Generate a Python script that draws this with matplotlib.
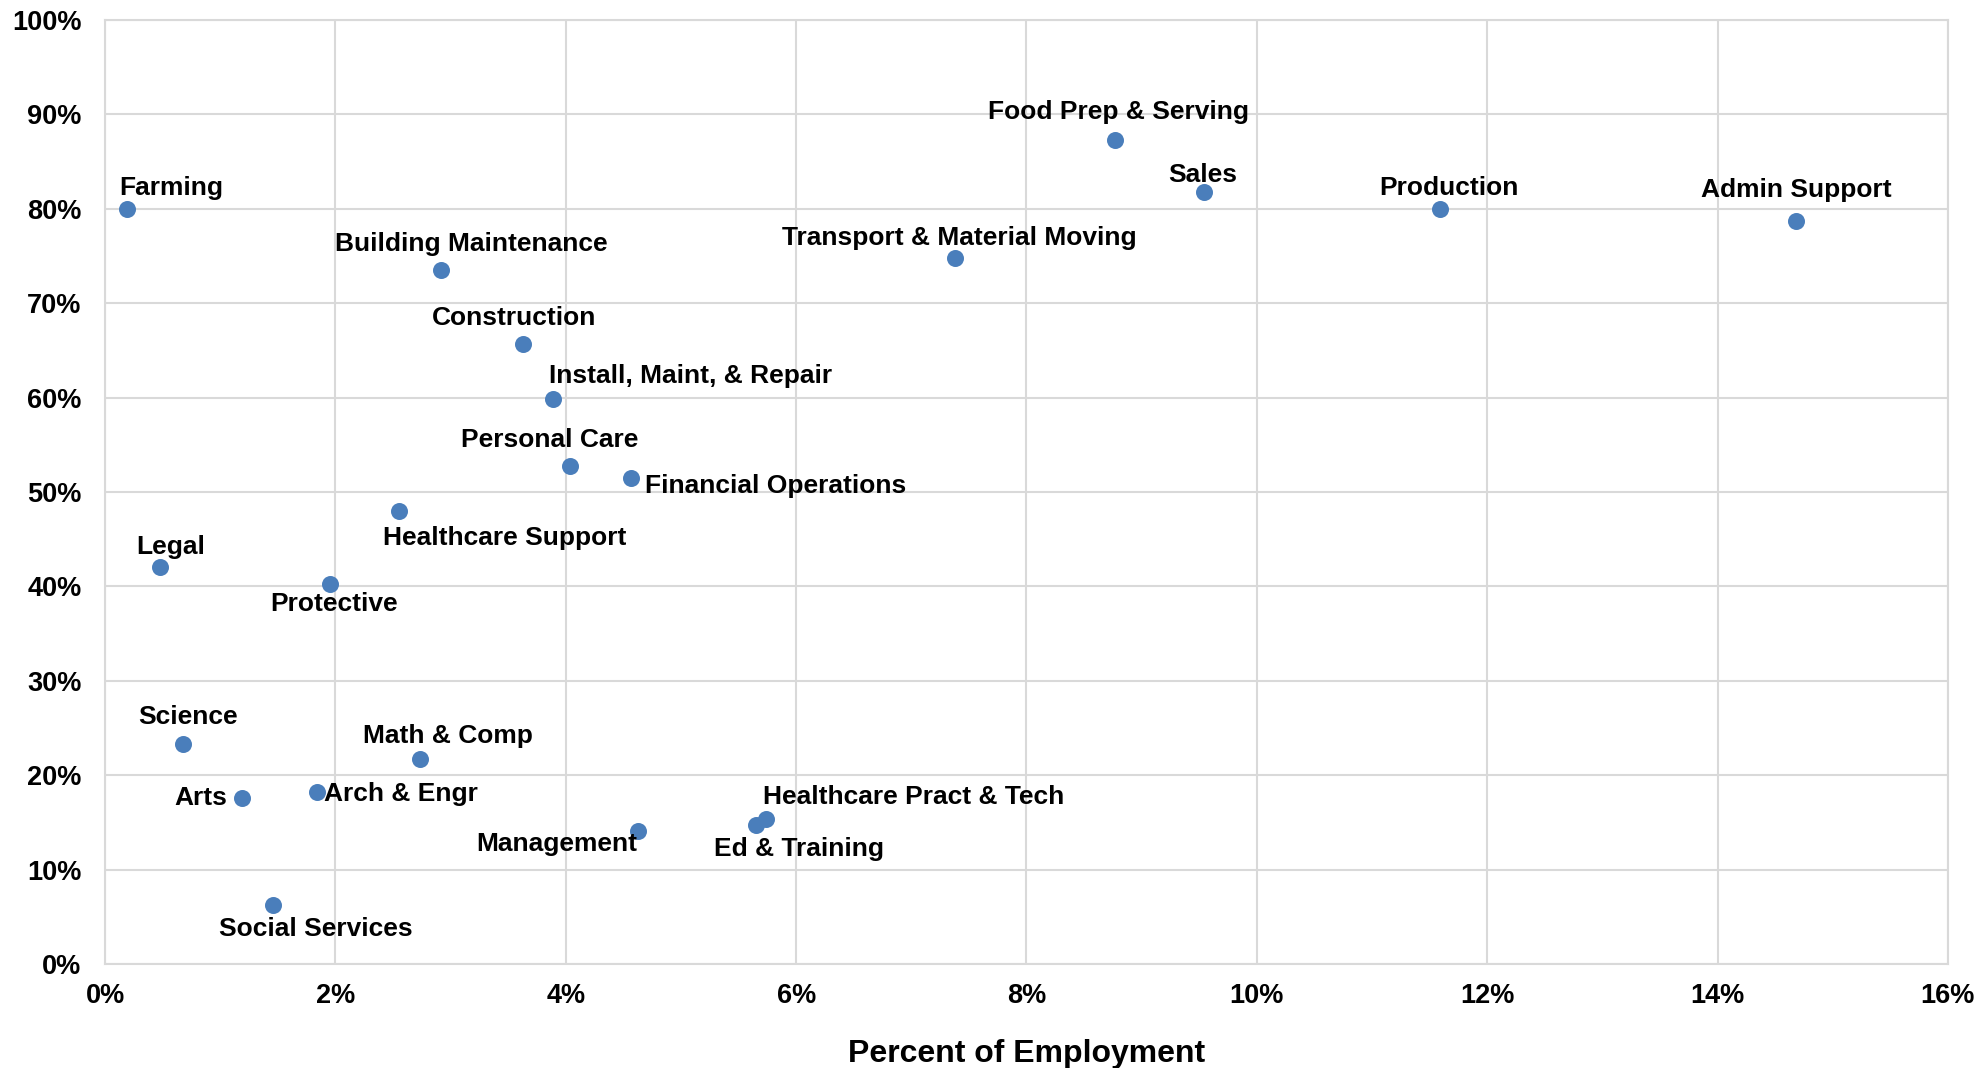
import matplotlib
matplotlib.use("Agg")
import matplotlib.pyplot as plt
from matplotlib.ticker import PercentFormatter

plt.rcParams['font.family'] = ['Liberation Sans', 'DejaVu Sans']
plt.rcParams['font.weight'] = 'bold'

# Occupation groups: share of employment (%) vs. share of tasks automatable (%)
occupations = [
    "Farming", "Building Maintenance", "Construction", "Install, Maint, & Repair",
    "Personal Care", "Financial Operations", "Healthcare Support", "Legal",
    "Protective", "Science", "Math & Comp", "Arts", "Arch & Engr", "Management",
    "Ed & Training", "Healthcare Pract & Tech", "Social Services",
    "Food Prep & Serving", "Sales", "Production", "Admin Support",
    "Transport & Material Moving",
]
employment = [0.19, 2.92, 3.63, 3.89, 4.04, 4.57, 2.55, 0.48, 1.95, 0.68, 2.73,
              1.19, 1.84, 4.63, 5.65, 5.74, 1.46, 8.77, 9.54, 11.59, 14.68, 7.38]
automatable = [80.0, 73.5, 65.7, 59.9, 52.7, 51.5, 48.0, 42.1, 40.2, 23.3, 21.7,
               17.6, 18.2, 14.1, 14.7, 15.4, 6.2, 87.3, 81.8, 80.0, 78.7, 74.8]

# label placement: offset in pixels from the point, and horizontal alignment
label_pos = {
    "Farming": (44, 21, "center"),
    "Building Maintenance": (30, 26, "center"),
    "Construction": (-9, 26, "center"),
    "Install, Maint, & Repair": (137, 23, "center"),
    "Personal Care": (-21, 26, "center"),
    "Financial Operations": (14, -8, "left"),
    "Healthcare Support": (106, -27, "center"),
    "Legal": (10, 20, "center"),
    "Protective": (4, -20, "center"),
    "Science": (5, 27, "center"),
    "Math & Comp": (28, 23, "center"),
    "Arts": (-15, 0, "right"),
    "Arch & Engr": (7, -2, "left"),
    "Management": (-1, -13, "right"),
    "Ed & Training": (43, -24, "center"),
    "Healthcare Pract & Tech": (147, 22, "center"),
    "Social Services": (43, -24, "center"),
    "Food Prep & Serving": (3, 28, "center"),
    "Sales": (-1, 17, "center"),
    "Production": (9, 21, "center"),
    "Admin Support": (0, 31, "center"),
    "Transport & Material Moving": (4, 20, "center"),
}

fig = plt.figure(figsize=(19.83, 10.68), dpi=100)
ax = fig.add_axes([0.053, 0.0974, 0.9293, 0.8839])

ax.scatter(employment, automatable, s=150, color="#4a7ebb", zorder=3, linewidths=0)

for name, x, y in zip(occupations, employment, automatable):
    dx, dy, ha = label_pos[name]
    ax.annotate(name, (x, y), xytext=(dx, dy), textcoords="offset pixels",
                ha=ha, va="center", fontsize=19, fontweight="bold", zorder=4)

ax.set_xlim(0, 16)
ax.set_ylim(0, 100)
ax.set_xticks(range(0, 17, 2))
ax.set_yticks(range(0, 101, 10))
ax.xaxis.set_major_formatter(PercentFormatter(decimals=0))
ax.yaxis.set_major_formatter(PercentFormatter(decimals=0))
ax.tick_params(length=0, labelsize=19.5)
ax.tick_params(axis="x", pad=14)
ax.tick_params(axis="y", pad=17)

ax.grid(True, color="#d9d9d9", linewidth=1.5)
ax.set_axisbelow(True)
for sp in ax.spines.values():
    sp.set_color("#d9d9d9")
    sp.set_linewidth(1.5)

ax.set_xlabel("Percent of Employment", fontsize=23, fontweight="bold", labelpad=21)

fig.savefig("out.png", dpi=100)
